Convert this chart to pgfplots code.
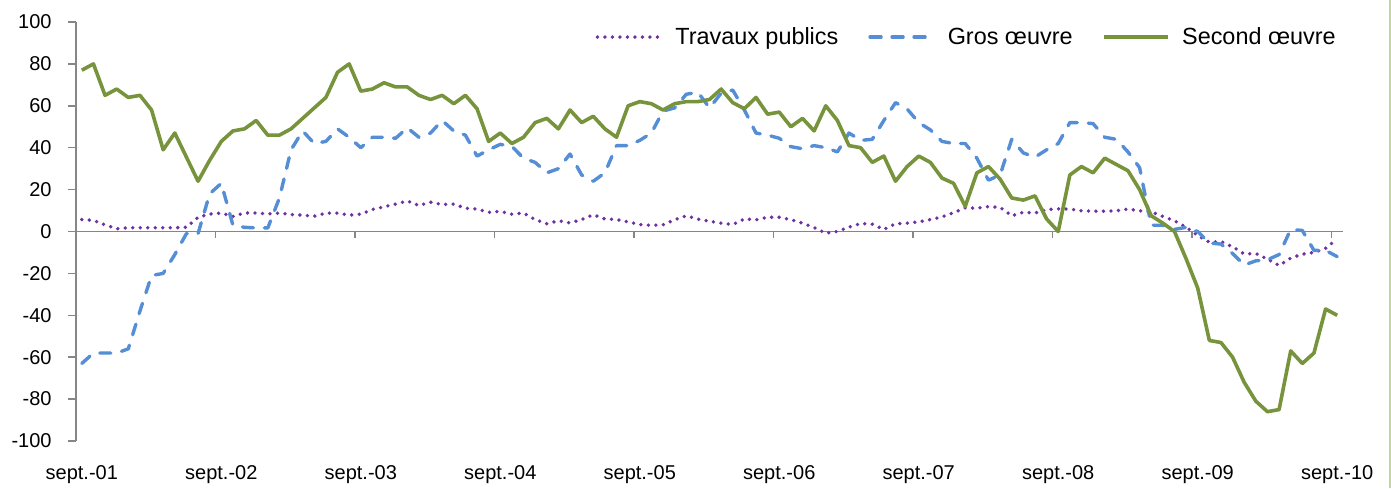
\documentclass[border=0pt]{standalone}
\usepackage{pgfplots}
\usepackage{pgfplotstable}
\pgfplotsset{compat=1.18}
\usepackage{fontspec}
\setmainfont{Liberation Sans}
\definecolor{tpcol}{RGB}{112,48,160}
\definecolor{gocol}{RGB}{85,142,213}
\definecolor{socol}{RGB}{119,147,60}
\definecolor{axcol}{RGB}{134,134,134}
\definecolor{bordercol}{RGB}{195,214,155}

\pgfplotstableread{
m tp go so
0 5.7 -63 77
1 5.3 -58 80
2 3.2 -58 65
3 1.3 -58 68
4 1.8 -56 64
5 1.8 -38 65
6 1.8 -21 58
7 1.8 -20 39
8 1.8 -11 47
9 2.0 -1 35.5
10 6.8 -1 24
11 8.3 18 34
12 8.8 23 43
13 7.2 3 48
14 8.9 2 49
15 8.8 1.7 53
16 8.4 1.7 46
17 8.8 16 46
18 8.1 39 49
19 7.8 48 54
20 7.3 42 59
21 8.8 43 64
22 8.8 49 76
23 7.8 45 80
24 8.3 40 67
25 10.5 45 68
26 11.8 45 71
27 13.1 44.5 69
28 14.6 49.5 69
29 12.4 45 65
30 14.0 47 63
31 12.9 53 65
32 13.1 48 61
33 11.1 46 65
34 10.7 36 58.6
35 9.2 39 43
36 9.6 41.6 47
37 8.3 40.6 42
38 8.8 35 45
39 5.7 33 52
40 3.7 28 54
41 5.1 30 49
42 4.1 37 58
43 5.7 27 52
44 8.0 24 55
45 6.0 28 49
46 5.7 41 45
47 4.6 41 60
48 3.3 43.5 62
49 2.9 47 61
50 3.2 57.5 58
51 5.6 59 61
52 7.5 65.5 62
53 5.9 66.5 62
54 4.9 59 63
55 4.0 66 68
56 3.3 67.5 61.5
57 6.0 58 58.6
58 5.6 47 64
59 6.8 46 56
60 6.8 44.5 57
61 5.7 40.5 50
62 4.0 39.5 54
63 1.9 41 48
64 -0.8 40 60
65 0.0 38 53
66 2.1 47 41
67 3.8 43.5 40
68 3.5 44 33
69 1.0 53 36
70 3.7 61.5 24
71 4.0 58.5 31
72 4.6 52 36
73 5.7 48.5 33
74 7.0 43 25.5
75 9.0 42 23
76 11.3 42 12
77 11.1 35 28
78 11.9 24.5 31
79 11.5 27 25
80 7.5 44 16
81 9.2 37.5 15
82 8.8 35.5 17
83 10.5 39 6
84 10.8 42 0
85 10.7 52 27
86 9.9 52 31
87 9.7 51.5 28
88 9.7 45 35
89 9.9 44 32
90 10.7 38 29
91 9.9 30.5 20
92 9.4 3 7.5
93 7.2 3 4
94 5.1 1 0
95 2.1 2 -13
96 -1.9 0 -27
97 -5.1 -5.5 -52
98 -4.8 -6 -53
99 -7.3 -10.5 -60
100 -10.7 -16 -72
101 -10.5 -14 -81
102 -13.2 -13.5 -86
103 -16.2 -11 -85
104 -12.7 1 -57
105 -10.8 0.5 -63
106 -10.0 -9 -58
107 -8.0 -9 -37
108 -3.5 -12 -40
}\datatable

\begin{document}
\begin{tikzpicture}
\begin{axis}[
  name=ax,
  scale only axis,
  width=633.5pt, height=209.5pt,
  xmin=-0.5, xmax=108.5, ymin=-100, ymax=100,
  axis y line=left, axis x line=bottom,
  x axis line style={draw=none},
  y axis line style={-, draw=axcol, line width=0.75pt},
  ytick={-100,-80,...,100},
  xtick={0,12,...,108},
  xticklabels={sept.-01,sept.-02,sept.-03,sept.-04,sept.-05,sept.-06,sept.-07,sept.-08,sept.-09,sept.-10},
  x tick style={draw=none},
  y tick style={draw=axcol, line width=0.75pt},
  tick align=outside,
  major tick length=4pt,
  /pgf/number format/assume math mode=true,
  ticklabel style={font=\fontsize{10}{12}\selectfont},
  yticklabel style={inner xsep=0pt, xshift=-8pt},
  xticklabel style={inner ysep=0pt, yshift=-8pt},
  clip=false,
  legend columns=3,
  legend style={
    at={(0.9945,0.964)}, anchor=east,
    draw=none, fill=none, inner sep=0pt,
    font=\fontsize{11.7}{14}\selectfont,
    nodes={inner xsep=0pt, inner ysep=1pt, anchor=base west},
    /tikz/every odd column/.append style={column sep=6pt},
    /tikz/every even column/.append style={column sep=15pt},
  },
  legend image code/.code={\draw[#1] (0pt,0.35em) -- (32pt,0.35em);},
]
\draw[axcol, line width=0.75pt] (axis cs:-0.5,0) -- (axis cs:108.5,0);
\pgfplotsinvokeforeach{11.5,23.5,35.5,47.5,59.5,71.5,83.5,95.5,107.5}{
  \draw[axcol, line width=0.75pt] (axis cs:#1,0) -- ++(0pt,-3.2pt);
}
\addplot[tpcol, line width=1.9pt, dash pattern=on 0pt off 3.75pt, line cap=round] table[x=m, y=tp] {\datatable};
\addlegendentry{Travaux publics}
\addplot[gocol, line width=1.7pt, dash pattern=on 5.5pt off 5.5pt, line cap=round, line join=round] table[x=m, y=go] {\datatable};
\addlegendentry{Gros œuvre}
\addplot[socol, line width=1.8pt, line join=round] table[x=m, y=so] {\datatable};
\addlegendentry{Second œuvre}
\end{axis}
\pgfresetboundingbox
\path[use as bounding box] ([xshift=-38pt,yshift=-23.5pt]ax.south west) rectangle ([xshift=657.5pt,yshift=220.5pt]ax.south west);
\draw[bordercol, line width=0.6pt] ([xshift=657pt,yshift=-23.5pt]ax.south west) -- ([xshift=657pt,yshift=220.5pt]ax.south west);
\end{tikzpicture}
\end{document}
